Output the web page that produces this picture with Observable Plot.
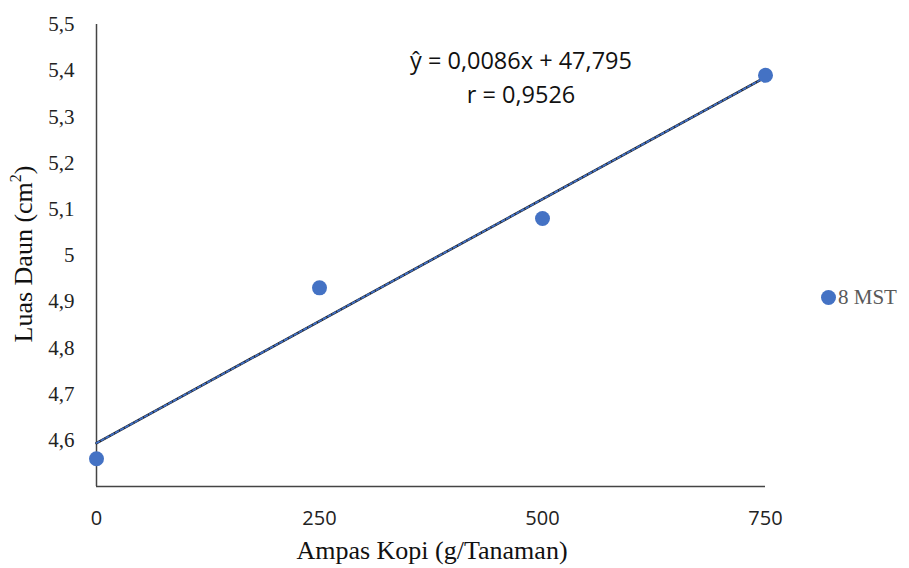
<!DOCTYPE html>
<html>
<head>
<meta charset="utf-8">
<script src="https://cdn.jsdelivr.net/npm/d3@7"></script>
<script src="https://cdn.jsdelivr.net/npm/@observablehq/plot@0.6"></script>
<style>
  html, body { margin: 0; padding: 0; background: #fff; }
  #wrap { position: relative; width: 909px; height: 568px; }
  #legend { position: absolute; left: 821px; top: 285px; font-family: "Liberation Serif", serif; font-size: 21px; color: #595959; display: flex; align-items: center; }
  #legend span.dot { display: inline-block; width: 15px; height: 15px; border-radius: 50%; background: #4472C4; margin-right: 2px; }
</style>
</head>
<body>
<div id="wrap">
  <div id="chart"></div>
  <div id="legend"><span class="dot"></span><span id="legtext"></span></div>
</div>
<script>
const seriesName = "8 MST";
const dosis = [0, 250, 500, 750];
const luasDaun = [4.56, 4.93, 5.08, 5.39];
const xTicks = [0, 250, 500, 750];
const yTicks = [4.6, 4.7, 4.8, 4.9, 5.0, 5.1, 5.2, 5.3, 5.4, 5.5];
const equationLines = ["ŷ = 0,0086x + 47,795", "r = 0,9526"];
const xTitle = "Ampas Kopi (g/Tanaman)";
const yTitle = "Luas Daun (cm²)";

const data = dosis.map((x, i) => ({x, y: luasDaun[i]}));
const fmt = v => String(+v.toFixed(1)).replace(".", ",");

const chart = Plot.plot({
  width: 909,
  height: 568,
  marginLeft: 96,
  marginRight: 144,
  marginTop: 24,
  marginBottom: 82,
  x: {domain: [0, 750], axis: null},
  y: {domain: [4.5, 5.5], axis: null},
  style: {background: "#fff"},
  marks: [
    Plot.text(yTicks, {x: 0, y: d => d, text: fmt, dx: -22, textAnchor: "end", lineAnchor: "middle",
      fontFamily: "Liberation Serif", fontSize: 21, fill: "#222"}),
    Plot.text(xTicks, {x: d => d, y: 4.5, text: d => String(d), dy: 32, textAnchor: "middle", lineAnchor: "middle",
      fontFamily: "Open Sans", fontSize: 20, fill: "#222"}),
    Plot.ruleX([0], {stroke: "#444", strokeWidth: 1.5}),
    Plot.ruleY([4.5], {x1: 0, x2: 750, stroke: "#444", strokeWidth: 1.5}),
    Plot.linearRegressionY(data, {x: "x", y: "y", ci: 0, stroke: "#222", strokeWidth: 2.6}),
    Plot.linearRegressionY(data, {x: "x", y: "y", ci: 0, stroke: "#3F6FC6", strokeWidth: 1.8, strokeDasharray: "3,2.5"}),
    Plot.dot(data, {x: "x", y: "y", r: 7.5, fill: "#4472C4", stroke: "none"})
  ]
});

const svg = d3.select(chart);
// equation text
svg.append("text").attr("x", 521).attr("y", 63).attr("text-anchor", "middle").attr("dominant-baseline", "middle")
  .style("font-family", '"Open Sans", sans-serif').style("font-size", "23.5px").attr("fill", "#111").text(equationLines[0]);
svg.append("text").attr("x", 521).attr("y", 97).attr("text-anchor", "middle").attr("dominant-baseline", "middle")
  .style("font-family", '"Open Sans", sans-serif').style("font-size", "23.5px").attr("fill", "#111").text(equationLines[1]);
// axis titles
const yt = svg.append("text").attr("transform", "translate(26,254) rotate(-90)").attr("text-anchor", "middle")
  .attr("dominant-baseline", "middle").style("font-family", '"Liberation Serif", serif').style("font-size", "26px").attr("fill", "#111");
yt.append("tspan").text(yTitle.replace("²)", ""));
yt.append("tspan").attr("baseline-shift", "super").style("font-size", "16px").text("2");
yt.append("tspan").text(")");
svg.append("text").attr("x", 432).attr("y", 553).attr("text-anchor", "middle").attr("dominant-baseline", "middle")
  .style("font-family", '"Liberation Serif", serif').style("font-size", "26px").attr("fill", "#111").text(xTitle);

document.getElementById("chart").appendChild(chart);
document.getElementById("legtext").textContent = seriesName;
</script>
</body>
</html>
